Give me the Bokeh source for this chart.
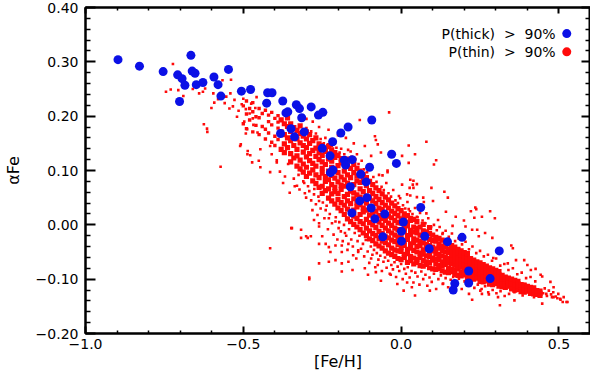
from bokeh.plotting import figure
from bokeh.models import LinearAxis, FixedTicker, Label, Range1d
from bokeh.embed import file_html
from bokeh.resources import INLINE

# ---- thick-disc stars, P(thick) > 90% ----
thick_feh = [-0.897, -0.829, -0.754, -0.708, -0.694, -0.685, -0.702, -0.666, -0.662, -0.653,
             -0.649, -0.628, -0.593, -0.580, -0.571, -0.547, -0.506, -0.477, -0.423, -0.409,
             -0.426, -0.375, -0.365, -0.359, -0.349, -0.382, -0.338, -0.332, -0.322, -0.285,
             -0.315, -0.262, -0.248, -0.307, -0.191, -0.168, -0.093, -0.217, -0.250, -0.225,
             -0.180, -0.176, -0.155, -0.216, -0.224, -0.128, -0.100, -0.111, -0.161, -0.030,
             -0.015, -0.131, -0.108, -0.156, -0.095, -0.083, -0.052, 0.062, 0.007, 0.001,
             -0.058, 0.001, 0.075, 0.089, 0.147, 0.193, 0.311, 0.214, 0.282, 0.170,
             0.214, 0.165]
thick_afe = [0.304, 0.292, 0.282, 0.276, 0.269, 0.257, 0.227, 0.312, 0.283, 0.279,
             0.258, 0.262, 0.272, 0.258, 0.237, 0.286, 0.246, 0.249, 0.243, 0.243,
             0.224, 0.228, 0.206, 0.208, 0.177, 0.168, 0.162, 0.221, 0.214, 0.217,
             0.197, 0.202, 0.207, 0.171, 0.169, 0.180, 0.193, 0.153, 0.141, 0.127,
             0.119, 0.110, 0.120, 0.101, 0.096, 0.093, 0.106, 0.079, 0.070, 0.130,
             0.113, 0.044, 0.050, 0.022, 0.031, 0.011, 0.020, 0.032, 0.005, -0.012,
             -0.022, -0.030, -0.021, -0.044, -0.031, -0.023, -0.048, -0.085, -0.099, -0.108,
             -0.107, -0.120]

# ---- thin-disc stars: dense ridge, one [Fe/H] column each, with the alpha values seen in it ----
thin_ridge_feh = [-0.50, -0.49, -0.48, -0.47, -0.46,
                  -0.45, -0.44, -0.43, -0.42, -0.41, -0.40, -0.39, -0.38, -0.37, -0.36,
                  -0.35, -0.34, -0.33, -0.32, -0.31, -0.30, -0.29, -0.28, -0.27, -0.26,
                  -0.25, -0.24, -0.23, -0.22, -0.21, -0.20, -0.19, -0.18, -0.17, -0.16,
                  -0.15, -0.14, -0.13, -0.12, -0.11, -0.10, -0.09, -0.08, -0.07, -0.06,
                  -0.05, -0.04, -0.03, -0.02, -0.01, 0.00, 0.01, 0.02, 0.03, 0.04,
                  0.05, 0.06, 0.07, 0.08, 0.09, 0.10, 0.11, 0.12, 0.13, 0.14,
                  0.15, 0.16, 0.17, 0.18, 0.19, 0.20, 0.21, 0.22, 0.23, 0.24,
                  0.25, 0.26, 0.27, 0.28, 0.29, 0.30, 0.31, 0.32, 0.33, 0.34,
                  0.35, 0.36, 0.37, 0.38, 0.39, 0.40, 0.41, 0.42, 0.43, 0.44]
thin_ridge_afe = [
    [0.186, 0.219], [0.204, 0.228, 0.177], [0.193, 0.214], [0.171, 0.208, 0.225], [0.183, 0.199],
    [0.166, 0.197, 0.214], [0.181, 0.205], [0.158, 0.176, 0.211], [0.169, 0.190, 0.202],
    [0.152, 0.184, 0.207], [0.146, 0.163, 0.196], [0.157, 0.178, 0.189, 0.201],
    [0.139, 0.171, 0.193], [0.133, 0.149, 0.166, 0.186], [0.142, 0.160, 0.181, 0.197],
    [0.116, 0.131, 0.155, 0.172, 0.186], [0.123, 0.146, 0.163, 0.179],
    [0.108, 0.127, 0.139, 0.158, 0.174], [0.103, 0.119, 0.151, 0.168, 0.182],
    [0.097, 0.112, 0.134, 0.146, 0.163], [0.089, 0.106, 0.125, 0.142, 0.158, 0.171],
    [0.095, 0.118, 0.131, 0.150, 0.166], [0.081, 0.101, 0.113, 0.137, 0.155],
    [0.076, 0.092, 0.108, 0.126, 0.141, 0.160], [0.069, 0.087, 0.120, 0.133, 0.149],
    [0.058, 0.071, 0.095, 0.104, 0.116, 0.128, 0.146], [0.063, 0.080, 0.089, 0.111, 0.135, 0.141],
    [0.049, 0.066, 0.083, 0.099, 0.121, 0.130, 0.144], [0.044, 0.057, 0.074, 0.091, 0.106, 0.117, 0.138],
    [0.038, 0.061, 0.069, 0.086, 0.101, 0.124, 0.133], [0.031, 0.047, 0.058, 0.079, 0.096, 0.109, 0.128],
    [0.026, 0.041, 0.065, 0.073, 0.088, 0.114, 0.122], [0.019, 0.036, 0.052, 0.071, 0.083, 0.099, 0.117],
    [0.011, 0.029, 0.044, 0.056, 0.077, 0.092, 0.110, 0.121], [0.006, 0.022, 0.039, 0.062, 0.068, 0.087, 0.104],
    [0.001, 0.016, 0.027, 0.048, 0.059, 0.074, 0.096, 0.111], [-0.004, 0.012, 0.033, 0.041, 0.055, 0.081, 0.090, 0.104],
    [-0.009, 0.006, 0.019, 0.037, 0.051, 0.066, 0.078, 0.099], [-0.015, 0.002, 0.024, 0.031, 0.045, 0.061, 0.085, 0.093],
    [-0.020, -0.006, 0.010, 0.027, 0.040, 0.053, 0.072, 0.087], [-0.026, -0.011, 0.004, 0.018, 0.034, 0.049, 0.063, 0.080],
    [-0.029, -0.016, 0.000, 0.022, 0.028, 0.044, 0.058, 0.074], [-0.035, -0.020, -0.005, 0.009, 0.025, 0.039, 0.052, 0.068],
    [-0.039, -0.025, -0.012, 0.005, 0.017, 0.031, 0.047, 0.063], [-0.043, -0.030, -0.016, -0.001, 0.012, 0.028, 0.041, 0.057],
    [-0.048, -0.033, -0.022, -0.006, 0.008, 0.020, 0.036, 0.051], [-0.052, -0.037, -0.024, -0.011, 0.003, 0.016, 0.031, 0.046],
    [-0.055, -0.043, -0.028, -0.015, -0.001, 0.013, 0.025, 0.040], [-0.058, -0.046, -0.031, -0.019, -0.006, 0.008, 0.021, 0.035],
    [-0.062, -0.048, -0.036, -0.022, -0.009, 0.004, 0.017, 0.030], [-0.064, -0.049, -0.041, -0.024, -0.015, 0.003, 0.011, 0.026],
    [-0.060, -0.055, -0.038, -0.030, -0.012, -0.006, 0.014, 0.020], [-0.069, -0.053, -0.045, -0.027, -0.020, -0.002, 0.005, 0.017],
    [-0.066, -0.058, -0.043, -0.035, -0.018, -0.010, 0.008, 0.012], [-0.072, -0.061, -0.047, -0.033, -0.026, -0.013, -0.004, 0.010],
    [-0.069, -0.064, -0.050, -0.040, -0.028, -0.015, -0.007, 0.006], [-0.075, -0.060, -0.052, -0.038, -0.031, -0.019, -0.004],
    [-0.076, -0.066, -0.054, -0.046, -0.033, -0.022, -0.011, 0.001], [-0.073, -0.068, -0.057, -0.042, -0.036, -0.024, -0.013],
    [-0.079, -0.069, -0.058, -0.050, -0.038, -0.027, -0.016, -0.005], [-0.081, -0.065, -0.061, -0.048, -0.041, -0.029, -0.019],
    [-0.082, -0.072, -0.063, -0.053, -0.044, -0.030, -0.023], [-0.080, -0.075, -0.064, -0.055, -0.043, -0.035, -0.025],
    [-0.085, -0.076, -0.068, -0.057, -0.047, -0.039, -0.028], [-0.087, -0.073, -0.069, -0.060, -0.050, -0.041, -0.031],
    [-0.088, -0.080, -0.070, -0.062, -0.051, -0.044, -0.034], [-0.086, -0.082, -0.072, -0.064, -0.055, -0.046, -0.038],
    [-0.091, -0.083, -0.074, -0.066, -0.058, -0.049, -0.041], [-0.093, -0.081, -0.077, -0.068, -0.060, -0.052, -0.045],
    [-0.094, -0.087, -0.078, -0.070, -0.062, -0.055, -0.048], [-0.092, -0.088, -0.081, -0.073, -0.065, -0.057, -0.051],
    [-0.097, -0.090, -0.082, -0.075, -0.067, -0.060, -0.053], [-0.099, -0.092, -0.085, -0.077, -0.070, -0.062],
    [-0.100, -0.094, -0.086, -0.079, -0.072, -0.065], [-0.098, -0.095, -0.089, -0.082, -0.074, -0.068],
    [-0.104, -0.097, -0.090, -0.084, -0.077, -0.070], [-0.105, -0.099, -0.093, -0.086, -0.080, -0.073],
    [-0.103, -0.101, -0.094, -0.088, -0.082, -0.076], [-0.109, -0.102, -0.096, -0.091, -0.084, -0.079],
    [-0.110, -0.104, -0.099, -0.093, -0.087, -0.081], [-0.108, -0.106, -0.100, -0.095, -0.089, -0.084],
    [-0.113, -0.107, -0.102, -0.097, -0.092, -0.086], [-0.114, -0.109, -0.104, -0.099, -0.093],
    [-0.115, -0.111, -0.106, -0.100, -0.096], [-0.113, -0.112, -0.107, -0.103, -0.098],
    [-0.118, -0.114, -0.109, -0.104, -0.100], [-0.120, -0.115, -0.111, -0.106, -0.102],
    [-0.119, -0.117, -0.113, -0.108, -0.104], [-0.123, -0.118, -0.114, -0.110],
    [-0.124, -0.120, -0.116, -0.111], [-0.122, -0.121, -0.117, -0.113],
    [-0.126, -0.122, -0.119, -0.115], [-0.127, -0.124, -0.120, -0.116],
    [-0.128, -0.125, -0.121], [-0.130, -0.126, -0.122], [-0.129, -0.127, -0.124],
    [-0.132, -0.128, -0.125],
]

# ---- thin-disc stars: individual stars outside the ridge ----
thin_feh = [-0.723, -0.745, -0.730, -0.706, -0.690, -0.660, -0.640, -0.628, -0.621, -0.615,
            -0.625, -0.614, -0.601, -0.592, -0.595, -0.580, -0.572, -0.566, -0.559, -0.554,
            -0.544, -0.541, -0.539, -0.533, -0.528, -0.520, -0.515, -0.510, -0.505, -0.500,
            -0.497, -0.492, -0.488, -0.486, -0.480, -0.478, -0.475, -0.470, -0.468, -0.462,
            -0.458, -0.455, -0.492, -0.508, -0.487, -0.446, -0.451, -0.415, -0.410, -0.394,
            -0.472, -0.446, -0.415, -0.384, -0.368, -0.332, -0.317, -0.374, -0.337, -0.307,
            -0.291, -0.276, -0.260, -0.322, -0.353, -0.281, -0.265, -0.239, -0.229, -0.208,
            -0.198, -0.178, -0.296, -0.317, -0.286, -0.348, -0.260, -0.229, -0.208, -0.188,
            -0.167, -0.152, -0.136, -0.229, -0.260, -0.188, -0.154, -0.291, -0.415, -0.394,
            -0.358, -0.317, -0.301, -0.276, -0.260, -0.250, -0.239, -0.224, -0.208, -0.188,
            -0.167, -0.115, -0.105, -0.080, -0.064, -0.033, -0.012, 0.019, 0.034, 0.008,
            0.044, -0.136, -0.095, -0.188, -0.291, -0.301, -0.219, -0.260, -0.074, 0.091,
            0.132, 0.173, 0.215, 0.256, 0.307, 0.359, 0.241, 0.266, 0.235, 0.297,
            0.349, 0.400, 0.442, 0.524, 0.504, 0.483, 0.390, 0.024, 0.080, 0.044,
            0.024, 0.111, 0.104, 0.039, 0.050, 0.037, 0.027, 0.096, 0.137, 0.148,
            0.050, 0.029, 0.072, -0.038, -0.131, -0.083, 0.238, 0.221, 0.256, 0.199,
            0.163, 0.282, 0.232, 0.289, 0.354, 0.292, 0.338, 0.364, 0.390, 0.411,
            0.426, 0.447, 0.473, 0.483, 0.495, 0.512, 0.527, 0.447, 0.421, 0.385,
            0.359, 0.313, 0.225, 0.251, 0.276, 0.318, 0.400, 0.437, 0.460, 0.478,
            -0.074, -0.043, -0.059, 0.029, 0.003, 0.039, 0.019, -0.007, 0.070, 0.101,
            0.080, 0.117, 0.142, 0.173, 0.204, 0.225, 0.246, 0.132, 0.050, 0.050,
            0.024, -0.080, -0.115, -0.095, -0.064, -0.043, 0.003, -0.150, -0.175, -0.200,
            -0.230, -0.260, -0.280, -0.300, -0.240, -0.210, -0.190, -0.160, -0.140, -0.346]
thin_afe = [0.296, 0.245, 0.249, 0.248, 0.237, 0.250, 0.242, 0.245, 0.251, 0.177,
            0.185, 0.171, 0.215, 0.225, 0.242, 0.231, 0.107, 0.266, 0.224, 0.236,
            0.214, 0.242, 0.267, 0.218, 0.230, 0.199, 0.210, 0.145, 0.222, 0.232,
            0.190, 0.213, 0.176, 0.136, 0.205, 0.128, 0.223, 0.196, 0.184, 0.215,
            0.235, 0.170, 0.168, 0.148, 0.130, 0.139, 0.118, 0.145, 0.130, 0.119,
            0.115, 0.106, 0.097, 0.098, 0.089, 0.109, 0.100, 0.077, 0.071, 0.077,
            0.062, 0.056, 0.044, 0.065, 0.059, 0.027, 0.018, 0.027, 0.012, 0.006,
            -0.006, -0.015, -0.024, -0.024, -0.021, -0.006, -0.035, -0.041, -0.038, -0.050,
            -0.035, -0.056, -0.047, -0.068, -0.071, -0.071, -0.083, -0.100, -0.043, 0.115,
            0.112, -0.009, -0.021, 0.009, -0.003, -0.021, -0.035, -0.050, -0.065, -0.086,
            -0.068, -0.080, -0.092, -0.087, -0.103, -0.092, -0.109, -0.106, -0.115, -0.121,
            -0.130, -0.050, -0.062, -0.038, -0.097, 0.050, 0.056, 0.003, -0.074, -0.121,
            -0.109, -0.115, -0.127, -0.127, -0.133, -0.124, -0.009, -0.015, 0.032, 0.012,
            -0.038, -0.074, -0.092, -0.142, -0.136, -0.133, -0.109, 0.146, 0.153, 0.130,
            0.114, 0.119, 0.111, 0.081, 0.075, 0.074, 0.068, 0.068, 0.061, 0.050,
            0.051, 0.054, 0.042, 0.207, 0.193, 0.163, 0.029, 0.025, 0.015, 0.008,
            -0.002, 0.025, 0.013, -0.024, -0.043, -0.061, -0.071, -0.065, -0.065, -0.083,
            -0.081, -0.095, -0.105, -0.115, -0.135, -0.142, -0.142, -0.145, -0.133, -0.130,
            -0.139, -0.148, -0.138, -0.121, -0.124, -0.112, -0.121, -0.124, -0.127, -0.133,
            0.148, 0.097, 0.091, 0.083, 0.074, 0.068, 0.056, 0.053, 0.050, 0.044,
            0.021, 0.009, 0.024, 0.015, -0.003, -0.009, -0.021, -0.015, -0.009, 0.015,
            0.029, 0.156, 0.145, 0.127, 0.133, 0.100, 0.127, 0.150, 0.160, 0.165,
            0.175, 0.180, 0.190, 0.195, 0.160, 0.150, 0.140, 0.135, 0.130, -0.006]

# ---- thin-disc stars: fringe just below and above the ridge ----
thin_fringe_feh = [-0.340, -0.330, -0.325, -0.310, -0.305, -0.295, -0.285, -0.275, -0.270, -0.262,
                   -0.255, -0.248, -0.243, -0.236, -0.232, -0.226, -0.219, -0.214, -0.207, -0.202,
                   -0.196, -0.191, -0.185, -0.181, -0.174, -0.170, -0.165, -0.158, -0.153, -0.147,
                   -0.142, -0.138, -0.132, -0.127, -0.121, -0.117, -0.112, -0.106, -0.101, -0.096,
                   -0.091, -0.086, -0.082, -0.077, -0.072, -0.066, -0.061, -0.056, -0.051, -0.046,
                   -0.041, -0.036, -0.031, -0.026, -0.021, -0.016, -0.011, -0.006, 0.000, 0.005,
                   0.010, 0.015, 0.021, 0.027, 0.033, 0.039, 0.045, 0.052, 0.058, 0.064,
                   0.070, 0.077, 0.083, 0.090, 0.097, 0.104, 0.111, 0.118, 0.126, 0.133,
                   0.141, 0.149, 0.157, 0.165, 0.174, 0.183, 0.192, 0.201, 0.211, 0.221,
                   0.232, 0.243, 0.255, 0.266, 0.278, 0.290, 0.302, 0.315, 0.328, 0.342,
                   -0.300, -0.285, -0.270, -0.255, -0.245, -0.232, -0.220, -0.205, -0.195, -0.180,
                   -0.168, -0.157, -0.145, -0.135, -0.125, -0.118, -0.108, -0.098, -0.088, -0.078,
                   -0.070, -0.062, -0.055, -0.047, -0.040, -0.032, -0.025, -0.018, -0.010, -0.003,
                   0.006, 0.013, 0.020, 0.028, 0.036, 0.044, 0.052, 0.060, 0.068, 0.077,
                   0.086, 0.095, 0.104, 0.113, 0.122, 0.131, 0.141, 0.151, 0.161, 0.171,
                   0.182, 0.193, 0.204, 0.215, 0.226, 0.238, 0.250, 0.262, 0.275, 0.288,
                   0.301, 0.314, 0.327, 0.340, 0.354, 0.368, 0.382, 0.396, 0.410, 0.425,
                   0.450, 0.455, 0.462, 0.468, 0.475, 0.482, 0.490, 0.498, 0.505, 0.515]
thin_fringe_afe = [0.085, 0.072, 0.092, 0.080, 0.058, 0.071, 0.045, 0.066, 0.038, 0.052,
                   0.030, 0.041, 0.012, 0.035, -0.008, 0.020, 0.003, -0.018, 0.014, -0.027,
                   0.005, -0.012, -0.030, 0.000, -0.020, -0.046, -0.008, -0.027, -0.040, -0.015,
                   -0.062, -0.030, -0.020, -0.044, -0.035, -0.058, -0.028, -0.049, -0.070, -0.040,
                   -0.055, -0.046, -0.078, -0.052, -0.064, -0.057, -0.085, -0.068, -0.060, -0.079,
                   -0.066, -0.090, -0.074, -0.082, -0.069, -0.096, -0.077, -0.085, -0.072, -0.100,
                   -0.081, -0.090, -0.078, -0.097, -0.085, -0.106, -0.088, -0.095, -0.110, -0.086,
                   -0.100, -0.092, -0.112, -0.097, -0.105, -0.090, -0.118, -0.100, -0.093, -0.108,
                   -0.098, -0.115, -0.101, -0.096, -0.108, -0.099, -0.118, -0.104, -0.112, -0.105,
                   -0.116, -0.110, -0.118, -0.113, -0.128, -0.120, -0.126, -0.122, -0.131, -0.127,
                   0.178, 0.172, 0.168, 0.158, 0.150, 0.148, 0.145, 0.142, 0.133, 0.130,
                   0.138, 0.125, 0.121, 0.112, 0.118, 0.102, 0.097, 0.105, 0.088, 0.079,
                   0.092, 0.070, 0.064, 0.077, 0.058, 0.052, 0.064, 0.045, 0.040, 0.049,
                   0.036, 0.030, 0.042, 0.025, 0.020, 0.031, 0.014, 0.022, 0.008, 0.003,
                   0.012, -0.004, 0.000, -0.010, -0.004, -0.017, -0.011, -0.022, -0.016, -0.030,
                   -0.025, -0.036, -0.031, -0.045, -0.040, -0.052, -0.048, -0.058, -0.055, -0.066,
                   -0.062, -0.075, -0.072, -0.083, -0.080, -0.091, -0.088, -0.098, -0.096, -0.104,
                   -0.126, -0.117, -0.131, -0.121, -0.128, -0.124, -0.132, -0.127, -0.138, -0.133]

# ---- axes ----
x_range = (-1.0, 0.6)
y_range = (-0.2, 0.4)
x_ticks = [-1.0, -0.5, 0.0, 0.5]
x_tick_labels = ["\u22121.0", "\u22120.5", "0.0", "0.5"]
x_minor_ticks = [-0.9, -0.8, -0.7, -0.6, -0.4, -0.3, -0.2, -0.1, 0.1, 0.2, 0.3, 0.4, 0.6]
y_ticks = [-0.2, -0.1, 0.0, 0.1, 0.2, 0.3, 0.4]
y_tick_labels = ["\u22120.20", "\u22120.10", "0.00", "0.10", "0.20", "0.30", "0.40"]
y_minor_ticks = [-0.18, -0.16, -0.14, -0.12, -0.08, -0.06, -0.04, -0.02, 0.02, 0.04, 0.06, 0.08,
                 0.12, 0.14, 0.16, 0.18, 0.22, 0.24, 0.26, 0.28, 0.32, 0.34, 0.36, 0.38]
NB = "\u00a0"
legend_labels = ["P(thick)" + NB + NB + ">" + NB + NB + "90%", "P(thin)" + NB + NB + ">" + NB + NB + "90%"]

FONT = "DejaVu Sans"
BLUE = "#0b10e6"
RED = "#ff0a0a"

# ridge columns: sparser metal-poor end drawn with smaller squares
ridge_lo_x, ridge_lo_y, ridge_x, ridge_y = [], [], [], []
for fx, ys in zip(thin_ridge_feh, thin_ridge_afe):
    for y in ys:
        if fx < -0.38:
            ridge_lo_x.append(fx)
            ridge_lo_y.append(y)
        else:
            ridge_x.append(fx)
            ridge_y.append(y)
n1 = min(len(thin_feh), len(thin_afe))
n2 = min(len(thin_fringe_feh), len(thin_fringe_afe))

p = figure(width=590, height=373, x_range=Range1d(*x_range), y_range=Range1d(*y_range),
           output_backend="svg", toolbar_location=None,
           min_border_left=73, min_border_right=0, min_border_top=7, min_border_bottom=0)
p.grid.visible = False
p.outline_line_color = "black"
p.outline_line_width = 2
p.background_fill_color = "white"
p.border_fill_color = "white"

p.scatter(x=thin_feh[:n1], y=thin_afe[:n1], marker="square", size=2.6,
          fill_color=RED, line_color=None)
p.scatter(x=thin_fringe_feh[:n2], y=thin_fringe_afe[:n2], marker="square", size=2.6,
          fill_color=RED, line_color=None)
p.scatter(x=ridge_lo_x, y=ridge_lo_y, marker="square", size=3.4,
          fill_color=RED, line_color=None)
p.scatter(x=ridge_x, y=ridge_y, marker="square", size=5.2,
          fill_color=RED, line_color=None)
p.scatter(x=thick_feh, y=thick_afe, marker="circle", size=9,
          fill_color=BLUE, line_color=None)


def style_axis(ax, labels, tick_in, minor_in, show_labels):
    ax.axis_line_width = 2
    ax.axis_line_color = "black"
    ax.major_tick_in = tick_in
    ax.major_tick_out = 0
    ax.minor_tick_in = minor_in
    ax.minor_tick_out = 0
    ax.major_tick_line_width = 2
    ax.minor_tick_line_width = 1.5
    ax.major_tick_line_color = "black"
    ax.minor_tick_line_color = "black"
    if show_labels:
        ax.major_label_text_font = FONT
        ax.major_label_text_font_size = "14px"
        ax.major_label_text_color = "black"
        ax.major_label_overrides = labels
    else:
        ax.major_label_text_font_size = "0px"
        ax.major_label_text_color = None
        ax.major_label_standoff = 0


xlabels = {t: l for t, l in zip(x_ticks, x_tick_labels)}
ylabels = {t: l for t, l in zip(y_ticks, y_tick_labels)}

xa = p.xaxis[0]
xa.ticker = FixedTicker(ticks=x_ticks, minor_ticks=x_minor_ticks)
style_axis(xa, xlabels, 7, 3, True)
xa.major_label_standoff = 5
xa.axis_label = "[Fe/H]"
xa.axis_label_text_font = FONT
xa.axis_label_text_font_size = "16px"
xa.axis_label_text_font_style = "normal"
xa.axis_label_text_color = "black"
xa.axis_label_standoff = 0

ya = p.yaxis[0]
ya.ticker = FixedTicker(ticks=y_ticks, minor_ticks=y_minor_ticks)
style_axis(ya, ylabels, 10, 5, True)
ya.major_label_standoff = 7
ya.axis_label = "\u03b1Fe"
ya.axis_label_text_font = FONT
ya.axis_label_text_font_size = "16px"
ya.axis_label_text_font_style = "normal"
ya.axis_label_text_color = "black"
ya.axis_label_standoff = 10

top = LinearAxis(ticker=FixedTicker(ticks=x_ticks, minor_ticks=x_minor_ticks))
style_axis(top, None, 6, 3, False)
p.add_layout(top, "above")
right = LinearAxis(ticker=FixedTicker(ticks=y_ticks, minor_ticks=y_minor_ticks))
style_axis(right, None, 9, 5, False)
p.add_layout(right, "right")

# legend (text on the left, symbol on the right), placed as fractions of the frame
lx_text = x_range[0] + 0.931 * (x_range[1] - x_range[0])
lx_sym = x_range[0] + 0.953 * (x_range[1] - x_range[0])
ly = [y_range[1] - 0.080 * (y_range[1] - y_range[0]),
      y_range[1] - 0.136 * (y_range[1] - y_range[0])]
for txt, yy in zip(legend_labels, ly):
    p.add_layout(Label(x=lx_text, y=yy, text=txt, text_align="right", text_baseline="middle",
                       text_font=FONT, text_font_size="14px", text_color="black"))
p.scatter(x=[lx_sym, lx_sym], y=ly, marker="circle", size=9,
          fill_color=[BLUE, RED], line_color=None)

open("out.html", "w").write(file_html(p, INLINE))
